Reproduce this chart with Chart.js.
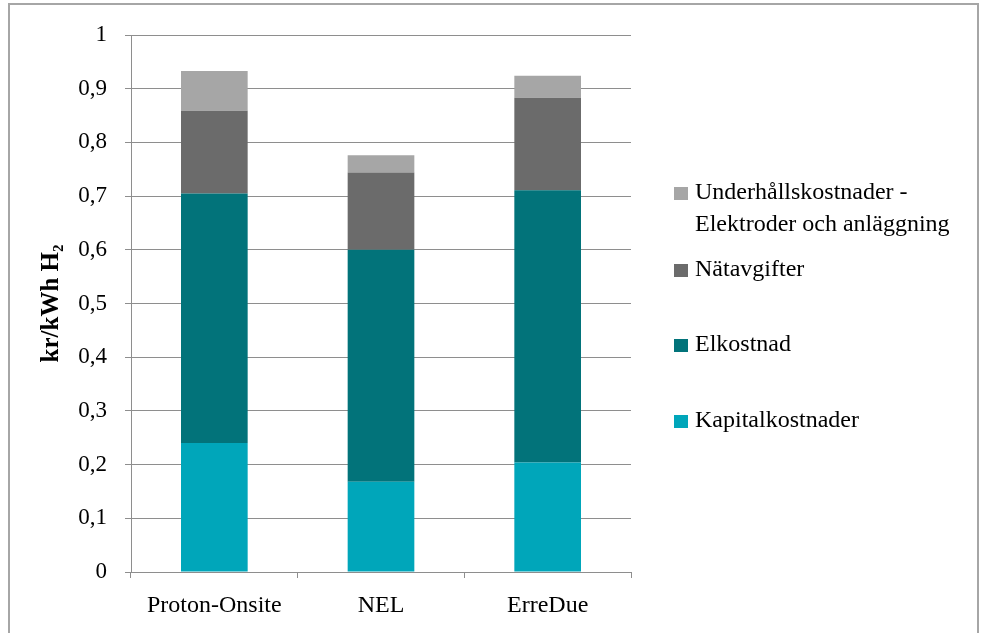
<!DOCTYPE html>
<html>
<head>
<meta charset="utf-8">
<script src="https://cdn.jsdelivr.net/npm/chart.js@4"></script>
<style>
  html, body { margin: 0; padding: 0; background: #fff; }
  #frame {
    position: absolute; left: 8px; top: 3px; width: 971px; height: 640px;
    border: 2px solid #a6a6a6; box-sizing: border-box;
  }
  canvas { position: absolute; left: 0; top: 0; }
</style>
</head>
<body>
<div id="frame"></div>
<canvas id="chart" width="981" height="633"></canvas>
<script>
// kategorier och värden (kr/kWh H2)
const categories = ["Proton-Onsite", "NEL", "ErreDue"];
const kapitalkostnader = [0.240, 0.168, 0.204];
const elkostnad = [0.465, 0.432, 0.507];
const natavgifter = [0.154, 0.144, 0.172];
const underhall = [0.074, 0.032, 0.041];
const yTicks = [0, 0.1, 0.2, 0.3, 0.4, 0.5, 0.6, 0.7, 0.8, 0.9, 1];

const FONT = "'Liberation Serif', 'DejaVu Serif', serif";

// egen legend till höger (stödjer radbrytning)
const sideLegend = {
  id: "sideLegend",
  afterDraw(chart) {
    const ctx = chart.ctx;
    const area = chart.chartArea;
    const x = area.right + 43;
    // ordning: överst Underhåll, nederst Kapital
    const rows = [
      { ds: 3, y: 193 },
      { ds: 2, y: 270 },
      { ds: 1, y: 345 },
      { ds: 0, y: 421 },
    ];
    ctx.save();
    ctx.font = "24px " + FONT;
    ctx.textBaseline = "middle";
    rows.forEach(r => {
      const ds = chart.data.datasets[r.ds];
      ctx.fillStyle = ds.backgroundColor;
      ctx.fillRect(x, r.y - 6, 14, 13);
      ctx.fillStyle = "#000";
      const lines = Array.isArray(ds.label) ? ds.label : [ds.label];
      lines.forEach((t, i) => ctx.fillText(t, x + 21, r.y + i * 32));
    });
    ctx.restore();
  }
};

new Chart(document.getElementById("chart").getContext("2d"), {
  type: "bar",
  data: {
    labels: categories,
    datasets: [
      { label: "Kapitalkostnader", data: kapitalkostnader, backgroundColor: "#00a6ba" },
      { label: "Elkostnad", data: elkostnad, backgroundColor: "#02737a" },
      { label: "Nätavgifter", data: natavgifter, backgroundColor: "#6b6b6b" },
      { label: ["Underhållskostnader -", "Elektroder och anläggning"], data: underhall, backgroundColor: "#a6a6a6" },
    ],
  },
  options: {
    responsive: false,
    animation: false,
    layout: { padding: { top: 35, right: 350, left: 0, bottom: 0 } },
    datasets: { bar: { barPercentage: 0.4, categoryPercentage: 1, borderWidth: 0 } },
    plugins: {
      legend: { display: false },
      tooltip: { enabled: false },
    },
    scales: {
      x: {
        stacked: true,
        afterFit: s => { s.height = 61; },
        grid: { offset: true, drawOnChartArea: false, drawTicks: true, tickLength: 6, color: "#8e8e8e" },
        border: { color: "#8e8e8e", width: 1 },
        ticks: { color: "#000", font: { family: FONT, size: 24 }, padding: 13 },
      },
      y: {
        stacked: true,
        min: 0,
        max: 1,
        afterFit: s => { s.width = 131; },
        afterBuildTicks: s => { s.ticks = yTicks.map(v => ({ value: v })); },
        grid: { color: "#8e8e8e", tickLength: 6 },
        border: { color: "#8e8e8e", width: 1 },
        ticks: {
          color: "#000",
          font: { family: FONT, size: 23 },
          padding: 18,
          callback: v => String(Math.round(v * 10) / 10).replace(".", ","),
        },
        title: {
          display: true,
          text: "kr/kWh H₂",
          color: "#000",
          font: { family: FONT, size: 25, weight: "bold" },
          padding: { top: 37, bottom: 0 },
        },
      },
    },
  },
  plugins: [sideLegend],
});
</script>
</body>
</html>
